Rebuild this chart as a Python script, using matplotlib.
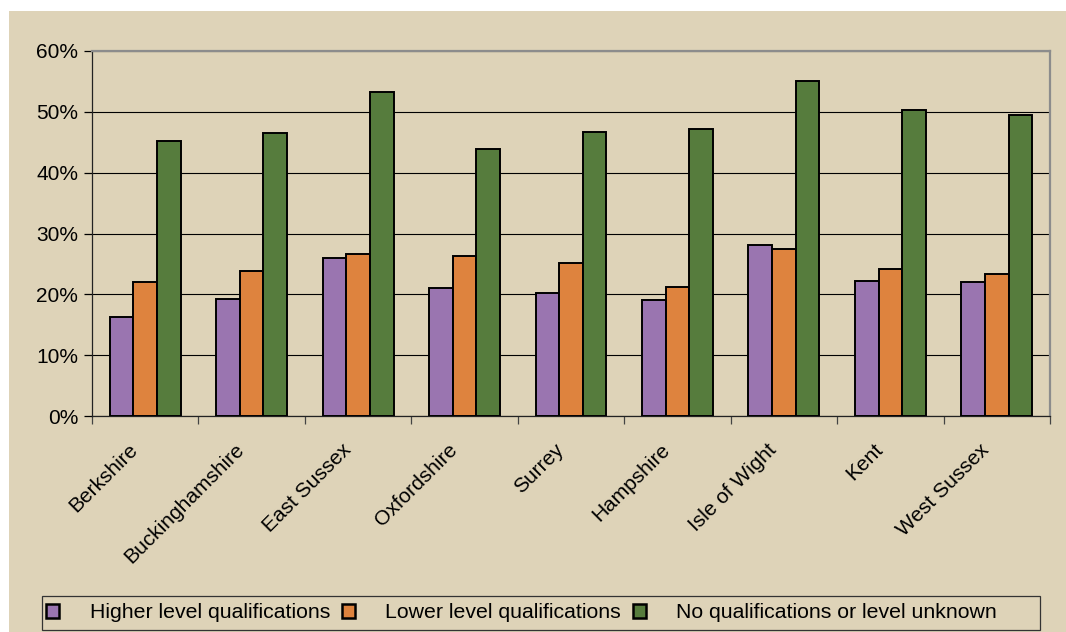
import matplotlib
matplotlib.use("Agg")
import matplotlib.pyplot as plt
import matplotlib.transforms as mtransforms
from matplotlib.patches import Rectangle
from matplotlib.ticker import FuncFormatter, FixedLocator
import numpy as np

plt.rcParams['font.family'] = ['Liberation Sans', 'DejaVu Sans']

counties = ["Berkshire", "Buckinghamshire", "East Sussex", "Oxfordshire", "Surrey",
            "Hampshire", "Isle of Wight", "Kent", "West Sussex"]
series_names = ["Higher level qualifications", "Lower level qualifications",
                "No qualifications or level unknown"]
higher = [16.3, 19.2, 25.9, 21.0, 20.3, 19.1, 28.1, 22.2, 22.1]
lower = [22.0, 23.8, 26.6, 26.3, 25.1, 21.2, 27.4, 24.2, 23.3]
none_unknown = [45.2, 46.6, 53.3, 43.9, 46.7, 47.1, 55.1, 50.3, 49.5]
y_ticks = [0, 10, 20, 30, 40, 50, 60]

colors = ["#9A75B0", "#DE833E", "#567C3D"]
beige = "#DED3B8"

W, H = 1066, 632
fig = plt.figure(figsize=(W / 100, H / 100), dpi=100, facecolor="white")
# Beige chart area with a thin white margin on the top and left
fig.patches.append(Rectangle((9 / W, 0), (W - 9) / W, (H - 11) / H,
                             transform=fig.transFigure, facecolor=beige,
                             edgecolor="none", zorder=-10))
# Legend box outline
fig.patches.append(Rectangle((42 / W, 2 / H), 998 / W, 34 / H,
                             transform=fig.transFigure, facecolor=beige,
                             edgecolor="#333333", linewidth=0.9, zorder=-5))

ax = fig.add_axes([92 / W, (H - 416) / H, 958 / W, 365 / H])
ax.set_facecolor(beige)

x = np.arange(len(counties))
width = 0.222
for i, (vals, name) in enumerate(zip([higher, lower, none_unknown], series_names)):
    ax.bar(x + (i - 1) * width, vals, width, color=colors[i], edgecolor="black",
           linewidth=1.4, label=name, zorder=3)

ax.set_xlim(-0.5, len(counties) - 0.5)
ax.set_ylim(0, 60)
ax.set_yticks(y_ticks)
ax.yaxis.set_major_formatter(FuncFormatter(lambda v, p: f"{v:.0f}%"))
ax.yaxis.grid(True, color="black", linewidth=0.8, zorder=1)
ax.set_axisbelow(True)

# Category boundaries carry the tick marks
ax.xaxis.set_major_locator(FixedLocator(np.arange(-0.5, len(counties), 1.0)))
ax.xaxis.set_major_formatter(FuncFormatter(lambda v, p: ""))
ax.tick_params(axis="x", which="major", length=6, width=0.9, color="#444444")
ax.tick_params(axis="y", length=6, width=0.9, labelsize=15, pad=4)

# Rotated category names, ending just left of each group centre
label_trans = mtransforms.offset_copy(
    mtransforms.blended_transform_factory(ax.transData, ax.transAxes),
    fig=fig, x=-17, y=-24, units="dots")
for xi, name in zip(x, counties):
    ax.text(xi, 0, name, transform=label_trans, rotation=45, ha="right", va="top",
            rotation_mode="anchor", fontsize=15, clip_on=False)

for side in ["left", "bottom"]:
    ax.spines[side].set_color("#222222")
    ax.spines[side].set_linewidth(0.9)
for side in ["top", "right"]:
    ax.spines[side].set_color("#8C8C8C")
    ax.spines[side].set_linewidth(1.6)

leg = fig.legend(loc="center left", bbox_to_anchor=(42 / W, 19 / H),
                 ncol=3, fontsize=15.3, frameon=False,
                 handlelength=0.6, handleheight=0.6, handletextpad=1.45,
                 columnspacing=0.55, borderpad=0.2, borderaxespad=0)
for h in leg.legend_handles:
    h.set_linewidth(1.8)

fig.savefig("out.png", dpi=100, facecolor="white")
